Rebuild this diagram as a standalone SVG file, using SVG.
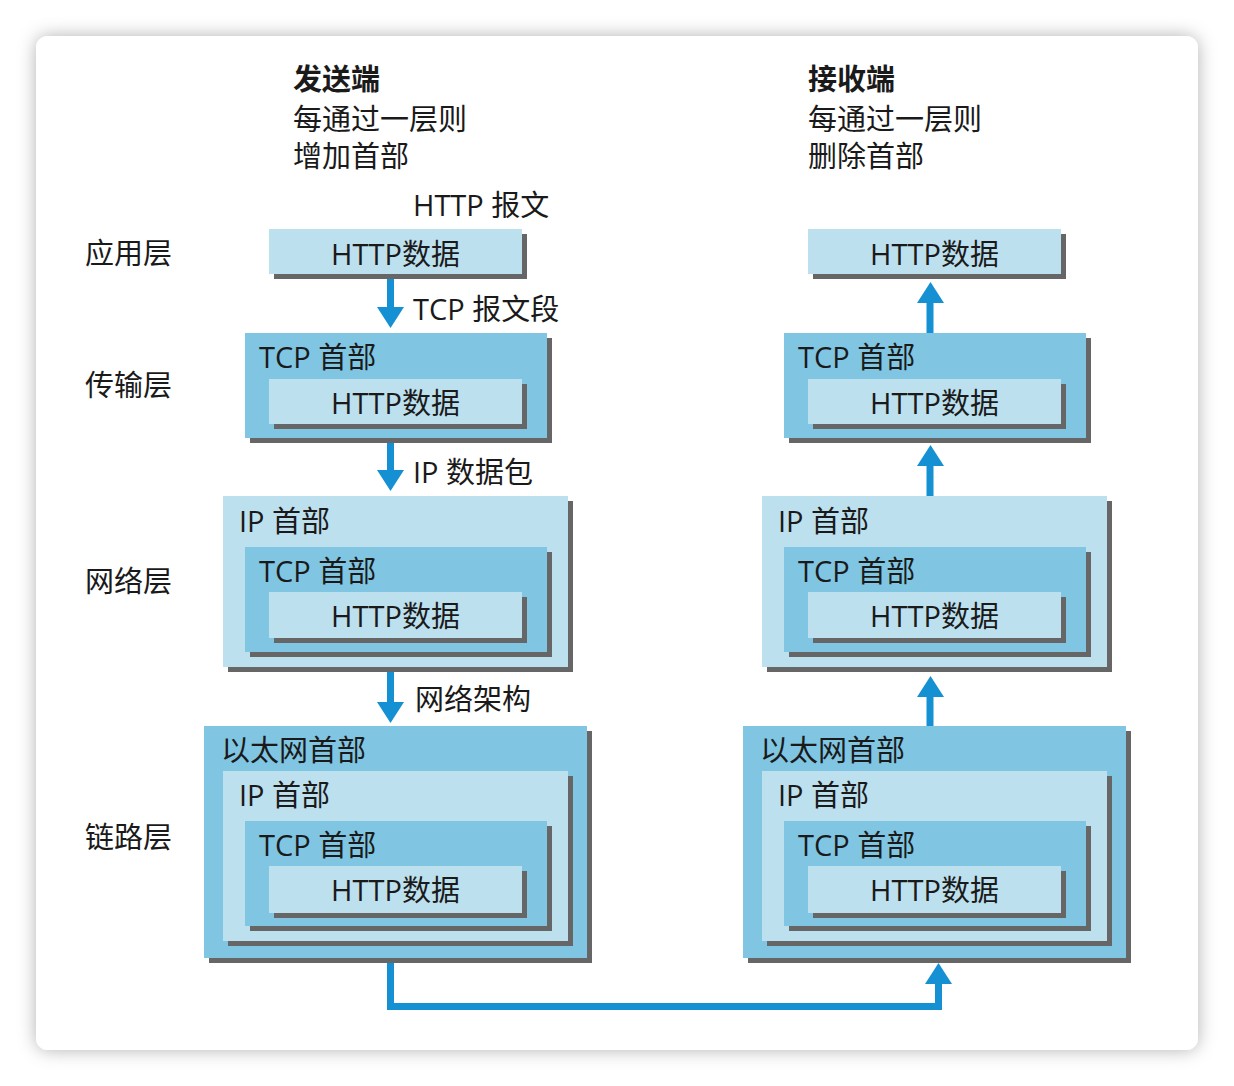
<svg xmlns="http://www.w3.org/2000/svg" width="1234" height="1086" viewBox="0 0 1234 1086">
<defs>
<style>
text{font-family:"Open Sans","Noto Sans CJK SC",sans-serif;font-size:29px;fill:#1a1a1a}
.b{font-weight:bold}
.c{text-anchor:middle}
.lt{fill:#bde0ee}
.md{fill:#80c6e3}
.sh{fill:#666666}
.ar{fill:#1591d3}
.ln{fill:none;stroke:#1591d3;stroke-width:7}
</style>
<filter id="cs" x="-5%" y="-5%" width="110%" height="110%">
<feDropShadow dx="0" dy="0" stdDeviation="9" flood-color="#000" flood-opacity="0.3"/>
</filter>
</defs>
<rect width="1234" height="1086" fill="#ffffff"/>
<rect x="36" y="36" width="1162" height="1014" rx="12" fill="#ffffff" filter="url(#cs)"/>

<g id="headers">
<text x="293" y="90" class="b">发送端</text>
<text x="293" y="130">每通过一层则</text>
<text x="293" y="167">增加首部</text>
<text x="808" y="90" class="b">接收端</text>
<text x="808" y="130">每通过一层则</text>
<text x="808" y="167">删除首部</text>
</g>

<g id="layer-labels">
<text x="85" y="264">应用层</text>
<text x="85" y="396">传输层</text>
<text x="85" y="592">网络层</text>
<text x="85" y="848">链路层</text>
</g>

<!-- Left column -->
<g id="send-app">
<rect x="274" y="234" width="253" height="45" class="sh"/>
<rect x="269" y="229" width="253" height="45" class="lt"/>
<text x="395.5" y="265" class="c">HTTP数据</text>
</g>
<g id="send-transport">
<rect x="250" y="338" width="302" height="105" class="sh"/>
<rect x="245" y="333" width="302" height="105" class="md"/>
<text x="259" y="368">TCP 首部</text>
<rect x="274" y="384" width="253" height="45" class="sh"/>
<rect x="269" y="379" width="253" height="45" class="lt"/>
<text x="395.5" y="414" class="c">HTTP数据</text>
</g>
<g id="send-network">
<rect x="228" y="501" width="345" height="171" class="sh"/>
<rect x="223" y="496" width="345" height="171" class="lt"/>
<text x="239" y="532">IP 首部</text>
<rect x="250" y="552" width="302" height="105" class="sh"/>
<rect x="245" y="547" width="302" height="105" class="md"/>
<text x="259" y="582">TCP 首部</text>
<rect x="274" y="597" width="253" height="46" class="sh"/>
<rect x="269" y="592" width="253" height="46" class="lt"/>
<text x="395.5" y="627" class="c">HTTP数据</text>
</g>
<g id="send-link">
<rect x="209" y="731" width="383" height="232" class="sh"/>
<rect x="204" y="726" width="383" height="232" class="md"/>
<text x="221" y="761">以太网首部</text>
<rect x="228" y="776" width="345" height="170" class="sh"/>
<rect x="223" y="771" width="345" height="170" class="lt"/>
<text x="239" y="806">IP 首部</text>
<rect x="250" y="826" width="302" height="105" class="sh"/>
<rect x="245" y="821" width="302" height="105" class="md"/>
<text x="259" y="856">TCP 首部</text>
<rect x="274" y="871" width="253" height="47" class="sh"/>
<rect x="269" y="866" width="253" height="47" class="lt"/>
<text x="395.5" y="901" class="c">HTTP数据</text>
</g>

<!-- Right column -->
<g id="recv-app">
<rect x="813" y="234" width="253" height="45" class="sh"/>
<rect x="808" y="229" width="253" height="45" class="lt"/>
<text x="934.5" y="265" class="c">HTTP数据</text>
</g>
<g id="recv-transport">
<rect x="789" y="338" width="302" height="105" class="sh"/>
<rect x="784" y="333" width="302" height="105" class="md"/>
<text x="798" y="368">TCP 首部</text>
<rect x="813" y="384" width="253" height="45" class="sh"/>
<rect x="808" y="379" width="253" height="45" class="lt"/>
<text x="934.5" y="414" class="c">HTTP数据</text>
</g>
<g id="recv-network">
<rect x="767" y="501" width="345" height="171" class="sh"/>
<rect x="762" y="496" width="345" height="171" class="lt"/>
<text x="778" y="532">IP 首部</text>
<rect x="789" y="552" width="302" height="105" class="sh"/>
<rect x="784" y="547" width="302" height="105" class="md"/>
<text x="798" y="582">TCP 首部</text>
<rect x="813" y="597" width="253" height="46" class="sh"/>
<rect x="808" y="592" width="253" height="46" class="lt"/>
<text x="934.5" y="627" class="c">HTTP数据</text>
</g>
<g id="recv-link">
<rect x="748" y="731" width="383" height="232" class="sh"/>
<rect x="743" y="726" width="383" height="232" class="md"/>
<text x="760" y="761">以太网首部</text>
<rect x="767" y="776" width="345" height="170" class="sh"/>
<rect x="762" y="771" width="345" height="170" class="lt"/>
<text x="778" y="806">IP 首部</text>
<rect x="789" y="826" width="302" height="105" class="sh"/>
<rect x="784" y="821" width="302" height="105" class="md"/>
<text x="798" y="856">TCP 首部</text>
<rect x="813" y="871" width="253" height="47" class="sh"/>
<rect x="808" y="866" width="253" height="47" class="lt"/>
<text x="934.5" y="901" class="c">HTTP数据</text>
</g>

<g id="connectors">
<rect x="387" y="279" width="7" height="29" class="ar"/>
<polygon points="377,307 404,307 390.5,328" class="ar"/>
<rect x="387" y="443" width="7" height="28" class="ar"/>
<polygon points="377,470 404,470 390.5,491" class="ar"/>
<rect x="387" y="672" width="7" height="31" class="ar"/>
<polygon points="377,702 404,702 390.5,723" class="ar"/>

<rect x="926.5" y="302" width="7" height="31" class="ar"/>
<polygon points="917,303 944,303 930.5,282" class="ar"/>
<rect x="926.5" y="465" width="7" height="31" class="ar"/>
<polygon points="917,466 944,466 930.5,445" class="ar"/>
<rect x="926.5" y="696" width="7" height="30" class="ar"/>
<polygon points="917,697 944,697 930.5,676" class="ar"/>

<path d="M390.5,963 V1006.5 H938.5 V982" class="ln"/>
<polygon points="925,984 952,984 938.5,963" class="ar"/>

<text x="413" y="216">HTTP 报文</text>
<text x="413" y="320">TCP 报文段</text>
<text x="413" y="483">IP 数据包</text>
<text x="415" y="710">网络架构</text>
</g>
</svg>
